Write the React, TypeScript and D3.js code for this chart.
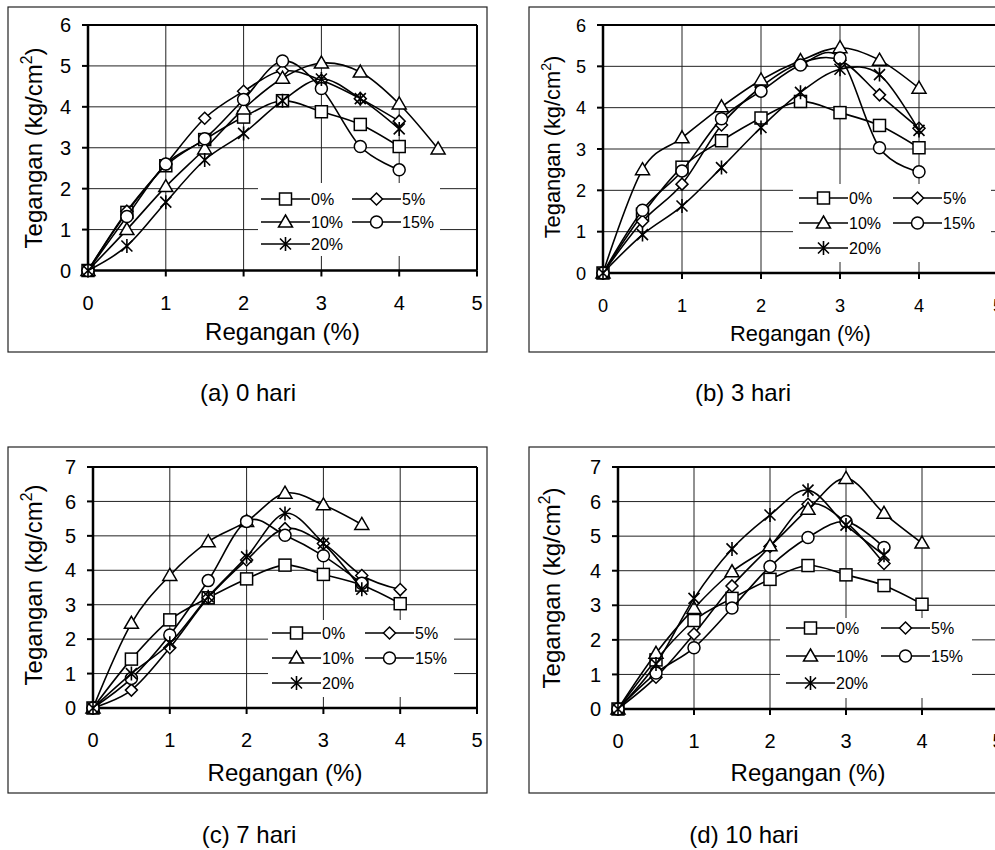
import React from 'react'
import * as d3 from 'd3'

// strain points (%) shared by all panels
const strain = [0, 0.5, 1, 1.5, 2, 2.5, 3, 3.5, 4, 4.5]
const seriesNames = ['0%', '5%', '10%', '15%', '20%']
const markerTypes = ['square', 'diamond', 'triangle', 'circle', 'star']
const captions = ['(a) 0 hari', '(b) 3 hari', '(c) 7 hari', '(d) 10 hari']
const yMaxes = [6, 6, 7, 7]

// 0% (control) is the same curve in every panel
const ctrl = [0, 1.42, 2.56, 3.2, 3.75, 4.15, 3.88, 3.57, 3.03]

// (a) 0 hari
const a5 = [0, 1.45, 2.6, 3.72, 4.38, 4.88, 4.65, 4.2, 3.65]
const a10 = [0, 1.0, 2.05, 2.97, 3.95, 4.7, 5.07, 4.85, 4.07, 2.97]
const a15 = [0, 1.32, 2.6, 3.22, 4.18, 5.12, 4.45, 3.03, 2.46]
const a20 = [0, 0.6, 1.67, 2.7, 3.35, 4.15, 4.68, 4.2, 3.46]

// (b) 3 hari
const b5 = [0, 1.25, 2.15, 3.58, 4.5, 5.08, 5.15, 4.31, 3.5]
const b10 = [0, 2.5, 3.27, 4.02, 4.67, 5.14, 5.45, 5.15, 4.47]
const b15 = [0, 1.52, 2.47, 3.73, 4.4, 5.03, 5.2, 3.03, 2.45]
const b20 = [0, 0.93, 1.62, 2.55, 3.52, 4.37, 4.93, 4.8, 3.45]

// (c) 7 hari
const c5 = [0, 0.52, 1.75, 3.2, 4.3, 5.21, 4.78, 3.85, 3.44]
const c10 = [0, 2.46, 3.85, 4.83, 5.42, 6.24, 5.9, 5.33]
const c15 = [0, 0.86, 2.12, 3.7, 5.42, 5.02, 4.42, 3.62]
const c20 = [0, 1.0, 1.88, 3.23, 4.39, 5.65, 4.78, 3.45]

// (d) 10 hari
const d5 = [0, 0.92, 2.17, 3.56, 4.7, 5.92, 5.4, 4.21]
const d10 = [0, 1.61, 2.91, 3.97, 4.72, 5.78, 6.67, 5.66, 4.8]
const d15 = [0, 1.04, 1.77, 2.92, 4.12, 4.96, 5.42, 4.67]
const d20 = [0, 1.3, 3.2, 4.63, 5.61, 6.33, 5.32, 4.45]

const panelSeries = [
  [ctrl, a5, a10, a15, a20],
  [ctrl, b5, b10, b15, b20],
  [ctrl, c5, c10, c15, c20],
  [ctrl, d5, d10, d15, d20],
]

// page layout of each panel
const layouts = [
  { frame: [8, 7, 479, 345], x0: 88, x1: 477, yTop: 25, yBot: 270.5, yTitleX: 42, yTitleY: 148, xTitleY: 340, fs: 1,
    legendBox: [258, 183, 182, 73], legendX: [261, 352], legendY: [199, 222, 244], captionX: 248, captionY: 401 },
  { frame: [529, 7, 479, 345], x0: 603, x1: 998, yTop: 25, yBot: 273, yTitleX: 560, yTitleY: 147, xTitleY: 341, fs: 0.91,
    legendBox: [793, 184, 198, 78], legendX: [799, 893], legendY: [198, 223, 248], captionX: 743, captionY: 401 },
  { frame: [8, 447, 479, 346], x0: 93, x1: 477, yTop: 467, yBot: 708, yTitleX: 42, yTitleY: 585, xTitleY: 781, fs: 1,
    legendBox: [268, 620, 186, 77], legendX: [272, 365], legendY: [633, 658, 683], captionX: 249, captionY: 843 },
  { frame: [529, 447, 479, 346], x0: 618, x1: 998, yTop: 467, yBot: 709, yTitleX: 560, yTitleY: 588, xTitleY: 781, fs: 1,
    legendBox: [780, 618, 192, 80], legendX: [786, 881], legendY: [628, 656, 683], captionX: 744, captionY: 843 },
]

const FONT = 'Liberation Sans, Arial, sans-serif'

function Marker({ type, x, y }: { type: string; x: number; y: number }) {
  const common = { fill: '#fff', stroke: '#000', strokeWidth: 1.5 }
  if (type === 'square') return <rect x={x - 6} y={y - 6} width={12} height={12} {...common} />
  if (type === 'diamond') return <path d={`M${x},${y - 6}L${x + 6},${y}L${x},${y + 6}L${x - 6},${y}Z`} {...common} />
  if (type === 'triangle') return <path d={`M${x},${y - 7}L${x + 7},${y + 5}L${x - 7},${y + 5}Z`} {...common} />
  if (type === 'circle') return <circle cx={x} cy={y} r={6} {...common} />
  return (
    <path
      d={`M${x - 5.5},${y - 5.5}L${x + 5.5},${y + 5.5}M${x - 5.5},${y + 5.5}L${x + 5.5},${y - 5.5}M${x},${y - 7}L${x},${y + 7}`}
      fill="none" stroke="#000" strokeWidth={1.6}
    />
  )
}

function Panel({ idx }: { idx: number }) {
  const L = layouts[idx]
  const yMax = yMaxes[idx]
  const x = d3.scaleLinear().domain([0, 5]).range([L.x0, L.x1])
  const y = d3.scaleLinear().domain([0, yMax]).range([L.yBot, L.yTop])
  const xTicks = x.ticks(5)
  const yTicks = y.ticks(yMax)
  const line = d3.line<number>()
    .x((_, i) => x(strain[i]))
    .y(d => y(d))
    .curve(d3.curveCardinal.tension(0))
  const [fx, fy, fw, fh] = L.frame
  const [lx, ly, lw, lh] = L.legendBox
  const tickFs = 20 * L.fs
  const titleFs = 24 * L.fs

  return (
    <g>
      <rect x={fx} y={fy} width={fw} height={fh} fill="#fff" stroke="#222" strokeWidth={1.2} />
      {/* gridlines */}
      {xTicks.filter(t => t > 0 && t < 5).map(t => (
        <line key={'gx' + t} x1={x(t)} x2={x(t)} y1={L.yTop} y2={L.yBot} stroke="#222" strokeWidth={1} />
      ))}
      {yTicks.filter(t => t > 0 && t < yMax).map(t => (
        <line key={'gy' + t} x1={L.x0} x2={L.x1} y1={y(t)} y2={y(t)} stroke="#222" strokeWidth={1} />
      ))}
      {/* plot border top/right */}
      <line x1={L.x0} x2={L.x1} y1={L.yTop} y2={L.yTop} stroke="#000" strokeWidth={2} />
      <line x1={L.x1} x2={L.x1} y1={L.yTop} y2={L.yBot} stroke="#000" strokeWidth={2} />
      {/* legend backdrop hides grid */}
      <rect x={lx} y={ly} width={lw} height={lh} fill="#fff" />
      {/* axes */}
      <line x1={L.x0} x2={L.x1} y1={L.yBot} y2={L.yBot} stroke="#000" strokeWidth={2.5} />
      <line x1={L.x0} x2={L.x0} y1={L.yTop} y2={L.yBot} stroke="#000" strokeWidth={2.5} />
      {xTicks.map(t => (
        <g key={'xt' + t}>
          <line x1={x(t)} x2={x(t)} y1={L.yBot} y2={L.yBot + 6} stroke="#000" strokeWidth={2} />
          <text x={x(t)} y={L.yBot + 39} textAnchor="middle" fontSize={tickFs}>{t}</text>
        </g>
      ))}
      {yTicks.map(t => (
        <g key={'yt' + t}>
          <line x1={L.x0 - 6} x2={L.x0} y1={y(t)} y2={y(t)} stroke="#000" strokeWidth={2} />
          <text x={L.x0 - 17} y={y(t)} dy="0.36em" textAnchor="end" fontSize={tickFs}>{t}</text>
        </g>
      ))}
      {/* series */}
      {panelSeries[idx].map((vals, s) => (
        <g key={'s' + s}>
          <path d={line(vals) || ''} fill="none" stroke="#000" strokeWidth={1.6} />
          {vals.map((v, i) => (
            <Marker key={i} type={markerTypes[s]} x={x(strain[i])} y={y(v)} />
          ))}
        </g>
      ))}
      {/* legend */}
      {seriesNames.map((name, s) => {
        const cx = L.legendX[s % 2]
        const cy = L.legendY[Math.floor(s / 2)]
        return (
          <g key={'lg' + s}>
            <line x1={cx} x2={cx + 49} y1={cy} y2={cy} stroke="#000" strokeWidth={1.6} />
            <Marker type={markerTypes[s]} x={cx + 24.5} y={cy} />
            <text x={cx + 50} y={cy} dy="0.36em" fontSize={16}>{name}</text>
          </g>
        )
      })}
      {/* axis titles */}
      <text x={(L.x0 + L.x1) / 2} y={L.xTitleY} textAnchor="middle" fontSize={titleFs}>Regangan (%)</text>
      <text transform={`translate(${L.yTitleX},${L.yTitleY}) rotate(-90)`} textAnchor="middle" fontSize={titleFs}>
        Tegangan (kg/cm<tspan fontSize={titleFs * 0.65} dy={-titleFs * 0.4}>2</tspan>
        <tspan dy={titleFs * 0.4}>)</tspan>
      </text>
      <text x={L.captionX} y={L.captionY} textAnchor="middle" fontSize={24}>{captions[idx]}</text>
    </g>
  )
}

export default function App() {
  return (
    <svg width={995} height={850} style={{ position: 'absolute', left: 0, top: 0, background: '#fff' }}
      fontFamily={FONT} fill="#000">
      <rect width={995} height={850} fill="#fff" />
      {layouts.map((_, i) => <Panel key={i} idx={i} />)}
    </svg>
  )
}
